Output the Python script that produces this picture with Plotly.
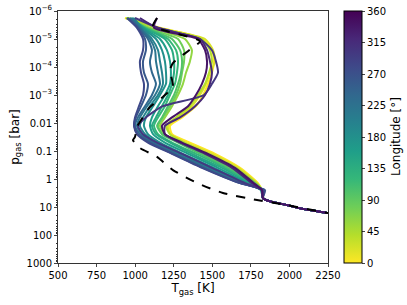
import plotly.graph_objects as go
from plotly.colors import sample_colorscale

# pressure levels [bar]
P_LEVELS = [1.78e-6, 3.98e-6, 1.0e-5, 2.51e-5, 6.31e-5, 1.58e-4, 3.98e-4, 1.0e-3,
            2.51e-3, 6.31e-3, 1.26e-2, 2.51e-2, 5.01e-2, 0.126, 0.398, 1.41, 2.51,
            4.79, 6.31, 8.51, 11.2, 16.2, 31.6]

LONGITUDES = [0, 20, 40, 60, 80, 100, 120, 140, 160, 180, 200, 220, 240, 260, 280, 300, 320, 340]

T_0 = [934, 1161, 1440, 1498, 1511, 1498, 1472, 1440, 1394, 1304, 1226, 1239, 1355, 1518, 1680, 1796, 1822, 1828, 1875, 1985, 2070, 2243, 2520]
T_20 = [947, 1148, 1453, 1505, 1518, 1485, 1459, 1420, 1368, 1278, 1213, 1226, 1330, 1498, 1667, 1790, 1822, 1828, 1875, 1985, 2070, 2243, 2520]
T_40 = [954, 1142, 1433, 1485, 1498, 1479, 1453, 1407, 1355, 1265, 1200, 1226, 1317, 1472, 1654, 1783, 1822, 1828, 1875, 1985, 2070, 2243, 2520]
T_60 = [941, 1096, 1323, 1368, 1355, 1330, 1310, 1278, 1239, 1193, 1161, 1193, 1304, 1453, 1635, 1783, 1822, 1828, 1875, 1985, 2070, 2243, 2520]
T_80 = [947, 1077, 1278, 1317, 1317, 1304, 1291, 1265, 1226, 1180, 1148, 1180, 1291, 1440, 1622, 1777, 1822, 1828, 1875, 1985, 2070, 2243, 2520]
T_100 = [954, 1070, 1239, 1291, 1304, 1297, 1278, 1252, 1213, 1174, 1142, 1174, 1278, 1420, 1602, 1770, 1822, 1828, 1875, 1985, 2070, 2243, 2520]
T_120 = [967, 1064, 1213, 1265, 1278, 1271, 1258, 1226, 1193, 1148, 1122, 1148, 1239, 1394, 1582, 1757, 1822, 1828, 1875, 1985, 2070, 2243, 2520]
T_140 = [973, 1057, 1193, 1239, 1252, 1252, 1239, 1213, 1174, 1135, 1109, 1135, 1226, 1368, 1563, 1744, 1822, 1828, 1875, 1985, 2070, 2243, 2520]
T_160 = [980, 1051, 1161, 1206, 1226, 1232, 1226, 1193, 1148, 1109, 1096, 1116, 1193, 1343, 1537, 1731, 1816, 1828, 1875, 1985, 2070, 2243, 2520]
T_180 = [986, 1044, 1135, 1174, 1193, 1200, 1200, 1161, 1116, 1070, 1057, 1083, 1161, 1310, 1511, 1719, 1816, 1828, 1875, 1985, 2070, 2243, 2520]
T_200 = [993, 1038, 1109, 1148, 1161, 1174, 1180, 1148, 1096, 1051, 1031, 1064, 1142, 1291, 1485, 1706, 1822, 1828, 1875, 1985, 2070, 2243, 2520]
T_220 = [980, 1031, 1096, 1129, 1135, 1148, 1161, 1129, 1077, 1031, 1012, 1044, 1122, 1271, 1466, 1693, 1829, 1828, 1875, 1985, 2070, 2243, 2520]
T_240 = [967, 1025, 1083, 1109, 1096, 1109, 1135, 1109, 1064, 1018, 999, 1031, 1109, 1258, 1453, 1686, 1835, 1828, 1875, 1985, 2070, 2243, 2520]
T_260 = [954, 1018, 1064, 1070, 1051, 1057, 1083, 1070, 1038, 1005, 993, 1018, 1096, 1245, 1440, 1680, 1842, 1828, 1875, 1985, 2070, 2243, 2520]
T_280 = [947, 1012, 1051, 1051, 1031, 1038, 1057, 1051, 1025, 999, 993, 1012, 1083, 1239, 1433, 1680, 1835, 1828, 1875, 1985, 2070, 2243, 2520]
T_300 = [999, 1148, 1420, 1498, 1524, 1537, 1498, 1446, 1180, 1070, 1018, 1051, 1142, 1304, 1498, 1712, 1822, 1828, 1875, 1985, 2070, 2243, 2520]
T_320 = [1031, 1142, 1420, 1466, 1485, 1498, 1485, 1453, 1388, 1291, 1193, 1193, 1291, 1453, 1628, 1757, 1822, 1828, 1875, 1985, 2070, 2243, 2520]
T_340 = [1142, 1122, 1407, 1453, 1466, 1459, 1433, 1394, 1343, 1239, 1174, 1193, 1304, 1472, 1647, 1770, 1822, 1828, 1875, 1985, 2070, 2243, 2520]

PROFILES = [T_0, T_20, T_40, T_60, T_80, T_100, T_120, T_140, T_160, T_180,
            T_200, T_220, T_240, T_260, T_280, T_300, T_320, T_340]

# 1D reference profile (dashed)
P_REF = [1.78e-6, 3.47e-6, 1.2e-5, 2.51e-5, 7.24e-5, 1.29e-4, 2.88e-4, 5.13e-4, 1.17e-3,
         2.69e-3, 6.17e-3, 1.38e-2, 3.16e-2, 4.07e-2, 7.76e-2, 0.162, 0.479, 1.38, 3.16,
         5.62, 8.51, 16.2, 31.6]
T_REF = [1142, 1116, 1420, 1350, 1245, 1226, 1239, 1245, 1180, 1096, 1051, 1012, 999,
         986, 1031, 1142, 1245, 1401, 1569, 1790, 1984, 2243, 2520]

X_TICKS = [500, 750, 1000, 1250, 1500, 1750, 2000, 2250]
Y_TICKVALS = [1e-6, 1e-5, 1e-4, 1e-3, 1e-2, 1e-1, 1, 10, 100, 1000]
Y_TICKTEXT = ["10<sup>−6</sup>", "10<sup>−5</sup>", "10<sup>−4</sup>", "10<sup>−3</sup>",
              "0.01", "0.1", "1", "10", "100", "1000"]
CB_TICKS = [0, 45, 90, 135, 180, 225, 270, 315, 360]

FONT = "DejaVu Sans"
colorscale = "Viridis_r"

fig = go.Figure()
cols = sample_colorscale(colorscale, [lon / 360 for lon in LONGITUDES])
for lon, T, c in zip(LONGITUDES, PROFILES, cols):
    fig.add_trace(go.Scatter(x=T, y=P_LEVELS, mode="lines",
                             line=dict(color=c, width=2, shape="spline", smoothing=0.6),
                             showlegend=False, hoverinfo="skip"))

fig.add_trace(go.Scatter(x=T_REF, y=P_REF, mode="lines",
                         line=dict(color="black", width=2, dash="dash", shape="spline", smoothing=0.6),
                         showlegend=False, hoverinfo="skip"))

# colorbar carrier
fig.add_trace(go.Scatter(x=[None], y=[None], mode="markers",
                         marker=dict(color=[0], colorscale=colorscale, cmin=0, cmax=360,
                                     showscale=True,
                                     colorbar=dict(
                                         x=1.059, xanchor="left", xpad=0,
                                         y=0.5, yanchor="middle", len=1, lenmode="fraction",
                                         ypad=0,
                                         thickness=18, outlinewidth=1, outlinecolor="black",
                                         tickvals=CB_TICKS, ticks="outside", ticklen=3,
                                         tickfont=dict(family=FONT, size=10, color="black"))),
                         showlegend=False, hoverinfo="skip"))

fig.add_annotation(text="Longitude [°]", xref="paper", yref="paper", x=1.252, y=0.5,
                   xanchor="center", yanchor="middle", textangle=-90, showarrow=False,
                   font=dict(family=FONT, size=12, color="black"))

fig.update_layout(
    width=407, height=305,
    margin=dict(l=58, r=79, t=11, b=42, autoexpand=False),
    plot_bgcolor="white", paper_bgcolor="white",
    font=dict(family=FONT, size=10, color="black"),
)
fig.update_xaxes(range=[500, 2250], tickvals=X_TICKS, ticks="outside", ticklen=3,
                 showline=True, linecolor="#333", linewidth=1, mirror=True,
                 showgrid=False, zeroline=False, automargin=False,
                 tickfont=dict(family=FONT, size=10, color="black"),
                 title=dict(text="T<sub>gas</sub> [K]", standoff=2,
                            font=dict(family=FONT, size=12, color="black")))
minor_vals = [k * 10 ** e for e in range(-6, 3) for k in range(2, 10)]
fig.update_yaxes(type="log", range=[3, -6], tickvals=Y_TICKVALS, ticktext=Y_TICKTEXT,
                 ticks="outside", ticklen=3,
                 minor=dict(tickvals=minor_vals, ticks="outside", ticklen=1.5, tickcolor="#333"),
                 showline=True, linecolor="#333", linewidth=1, mirror=True,
                 showgrid=False, zeroline=False, automargin=False,
                 tickfont=dict(family=FONT, size=10, color="black"),
                 title=dict(text="p<sub>gas</sub> [bar]", standoff=4,
                            font=dict(family=FONT, size=12, color="black")))

fig.write_html("out.html", config={"displayModeBar": False},
               post_script="document.body.style.margin='0';document.body.style.overflow='hidden';")
